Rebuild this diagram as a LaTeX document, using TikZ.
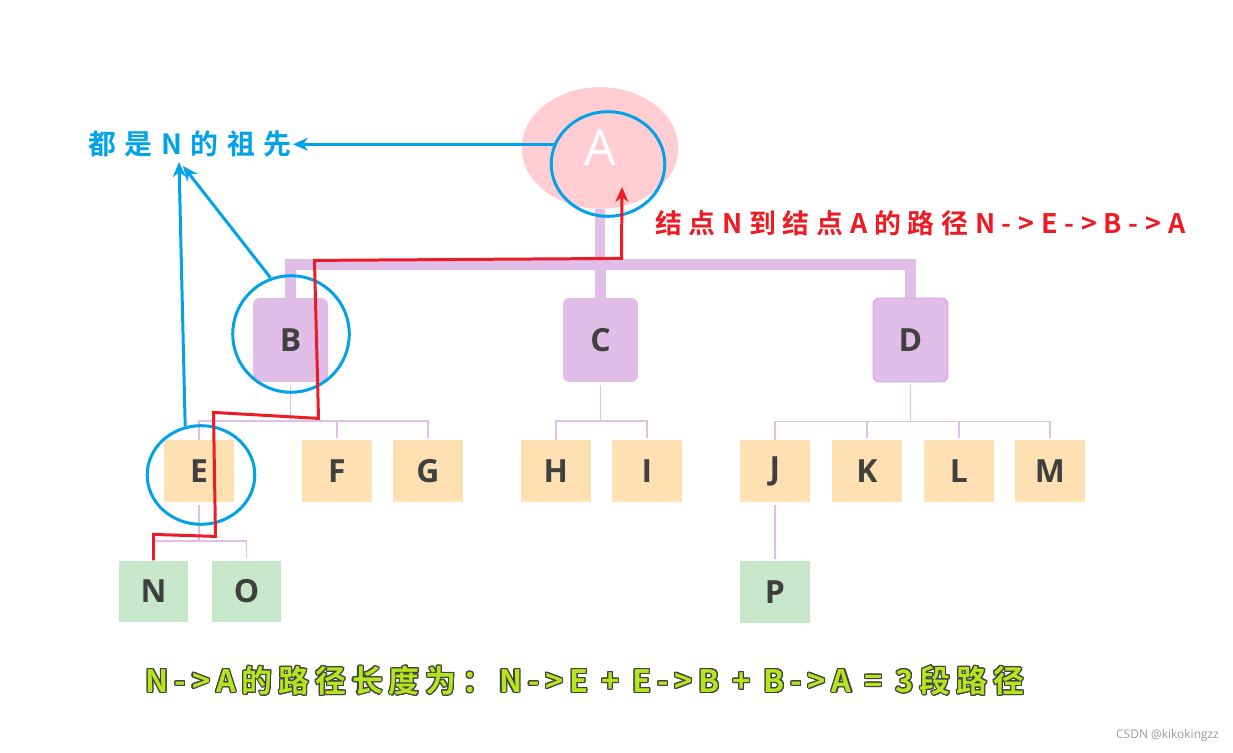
\documentclass[tikz,border=0pt]{standalone}
\usepackage{fontspec}
\usepackage{contour}
\usetikzlibrary{positioning,arrows.meta,shapes.geometric}
\setsansfont{Open Sans}
\newfontfamily\cjknote[LetterSpace=31]{Noto Sans CJK SC Bold}
\newfontfamily\cjkwide[LetterSpace=25]{Noto Sans CJK SC Bold}
\newfontfamily\cjkbold[LetterSpace=19]{Noto Sans CJK SC Bold}
\definecolor{ink}{HTML}{404040}
\definecolor{rose}{HTML}{FFCDD2}
\definecolor{lilac}{HTML}{E1BEE7}
\definecolor{lilacdk}{HTML}{D5A6E0}
\definecolor{peach}{HTML}{FFE0B2}
\definecolor{mint}{HTML}{C8E6C9}
\definecolor{sky}{HTML}{00A2E8}
\definecolor{rouge}{HTML}{ED1C24}
\definecolor{lime}{HTML}{B5E61D}
\definecolor{wgrey}{HTML}{9A9A9A}
\contourlength{1.1pt}
\tikzset{
  root/.style={ellipse, fill=rose, minimum width=157pt, minimum height=122pt,
               text=white, font=\sffamily\fontsize{50}{50}\selectfont},
  mid/.style={fill=lilac, rounded corners=6pt, minimum width=75pt, minimum height=84pt,
              text=ink, font=\sffamily\bfseries\fontsize{32}{32}\selectfont},
  leaf/.style={mid, fill=peach, sharp corners, minimum width=70pt, minimum height=62pt},
  low/.style={leaf, fill=mint},
  trunk/.style={draw=lilac, line width=11pt},
  twig/.style={draw=lilac, line width=1.4pt, shorten <=3pt, shorten >=2pt},
  ring/.style={ellipse, draw=sky, line width=3pt, inner sep=0pt},
  hint/.style={draw=sky, line width=3pt, -{Stealth[length=15pt,width=13pt]}},
  route/.style={draw=rouge, line width=3pt, -{Stealth[length=15pt,width=13pt]}},
  note/.style={text=sky, inner sep=1pt, font=\cjknote\fontsize{28}{28}\selectfont},
  lbl/.style={text=rouge, inner sep=1pt, font=\cjkwide\fontsize{27}{27}\selectfont},
  total/.style={text=lime, inner sep=1pt, font=\cjkbold\fontsize{31}{31}\selectfont},
  wm/.style={text=wgrey, inner sep=0pt, font=\sffamily\fontsize{12}{12}\selectfont},
}
\begin{document}
\begin{tikzpicture}[x=1bp, y=-1bp]
\path[fill=white, use as bounding box] (0,0) rectangle (1233,753);

% --- tree ---
\node[root] (A) at (600,148) {A};
\node[mid] (B) at (290.5,340) {B};
\node[mid] (C) at (600.5,340) {C};
\node[mid, draw=lilacdk, line width=1pt] (D) at (910.5,340) {D};
\node[leaf] (E) at (199,471) {E};
\node[leaf] (F) [right=68pt of E] {F};
\node[leaf] (G) [right=21pt of F] {G};
\node[leaf] (H) [right=58pt of G] {H};
\node[leaf] (I) [right=21pt of H] {I};
\node[leaf] (J) [right=58pt of I] {J};
\node[leaf] (K) [right=22pt of J] {K};
\node[leaf] (L) [right=22pt of K] {L};
\node[leaf] (M) [right=21pt of L] {M};
\node[low] (N) at (153.5,591.5) {N};
\node[low] (O) [right=23pt of N] {O};
\node[low] (P) [below=59pt of J] {P};

% --- links ---
\draw[trunk] (A.south) -- ++(0,56) coordinate (bar);
\draw[trunk] (B.north) -- (B.north |- bar) -- (D.north |- bar) -- (D.north);
\draw[trunk] (C.north) -- (C.north |- bar);
\draw[twig, shorten >=0pt] (B.south) -- ++(0,39) coordinate (bj);
\draw[twig, shorten <=0pt] (E.north) |- (bj) -| (G.north);
\draw[twig, shorten <=0pt] (F.north |- bj) -- (F.north);
\draw[twig, shorten >=0pt] (C.south) -- ++(0,39) coordinate (cj);
\draw[twig, shorten <=0pt] (H.north) |- (cj) -| (I.north);
\draw[twig, shorten >=0pt] (D.south) -- ++(0,39) coordinate (dj);
\draw[twig, shorten <=0pt] (J.north) |- (dj) -| (M.north);
\draw[twig, shorten <=0pt] (K.north |- dj) -- (K.north);
\draw[twig, shorten <=0pt] (L.north |- dj) -- (L.north);
\draw[twig, shorten >=0pt] (E.south) -- ++(0,39) coordinate (ej);
\draw[twig, shorten <=0pt] (N.north) |- (ej) -| (O.north);
\draw[twig] (J.south) -- (P.north);

% --- ancestors ---
\node[ring, minimum width=114pt, minimum height=105pt] (ringA) at (608,164) {};
\node[ring, minimum width=117pt, minimum height=117pt] (ringB) at (291,334) {};
\node[ring, minimum width=108pt, minimum height=99pt] (ringE) at (201,475) {};
\node[note, anchor=east] (anc) at (293,144) {都是N的祖先};
\coordinate (tipB) at (183,166);
\coordinate (tipE) at (179,162);
\draw[hint] (ringA.160) -- (ringA.160 -| anc.east);
\draw[hint] (ringB.110) -- (tipB);
\draw[hint] (ringE.108) -- (tipE);

% --- path N to A ---
\coordinate (Ain) at (622,187);
\draw[route] (N.north) -- ++(0,-26) -- ++(62,2) -- ++(-2,-124) -- ++(105,6)
  -- ++(-4,-158) -- ++(307,-2) -- (Ain);
\node[lbl, anchor=west] (pathtxt) at (654,223) {结点N到结点A的路径N->E->B->A};

% --- length ---
\node[total] (len) at (585,681) {\contour{ink}{N->A的路径长度为：N->E + E->B + B->A = 3段路径}};
\node[wm, anchor=east] (credit) at (1219,735) {CSDN @kikokingzz};
\end{tikzpicture}
\end{document}
